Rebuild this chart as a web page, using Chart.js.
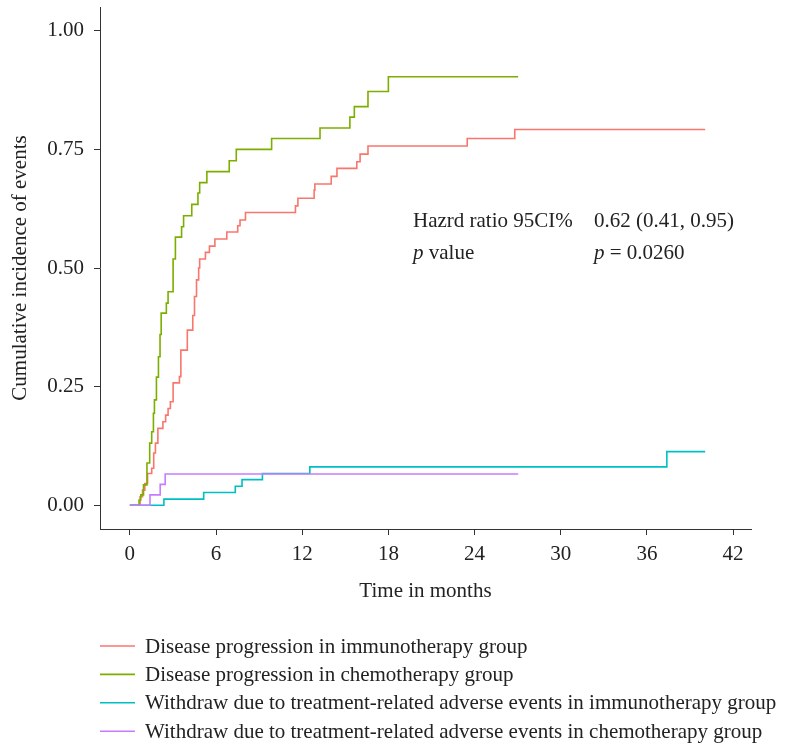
<!DOCTYPE html>
<html>
<head>
<meta charset="utf-8">
<script src="https://cdn.jsdelivr.net/npm/chart.js@4.4.1/dist/chart.umd.min.js"></script>
<style>
body { margin: 0; background: #fff; }
#wrap { width: 792px; height: 744px; position: relative; }
</style>
</head>
<body>
<div id="wrap"><canvas id="mainChart"></canvas></div>
<script>
const seriesNames = [
    'Disease progression in immunotherapy group',
    'Disease progression in chemotherapy group',
    'Withdraw due to treatment-related adverse events in immunotherapy group',
    'Withdraw due to treatment-related adverse events in chemotherapy group'
];
const seriesColors = ['#F8766D', '#7CAE00', '#00BFC4', '#C77CFF'];

// step times (months) and cumulative incidence after each step
const immunoPdTime = [0, 0.71, 0.88, 1.04, 1.23, 1.52, 1.66, 1.78, 1.95, 2.30, 2.49, 2.66, 2.82, 3.01, 3.45, 3.55, 4.00,
    4.38, 4.50, 4.64, 4.79, 4.86, 5.26, 5.54, 5.92, 6.75, 7.51, 7.67, 8.05, 11.53, 11.70, 12.83, 12.88,
    14.02, 14.42, 15.80, 16.03, 16.58, 23.49, 26.80, 40.06];
const immunoPdValue = [0, 0.018, 0.032, 0.046, 0.067, 0.078, 0.110, 0.131, 0.162, 0.176, 0.190, 0.204, 0.218, 0.258, 0.271, 0.327, 0.369,
    0.400, 0.440, 0.475, 0.500, 0.519, 0.533, 0.546, 0.561, 0.576, 0.589, 0.601, 0.617, 0.631, 0.647, 0.664, 0.677,
    0.693, 0.710, 0.724, 0.740, 0.757, 0.773, 0.792, 0.792];

const chemoPdTime = [0, 0.64, 0.76, 0.95, 1.19, 1.38, 1.52, 1.64, 1.71, 1.85, 1.99, 2.10, 2.18, 2.54, 2.66, 3.01,
    3.17, 3.60, 3.74, 4.31, 4.74, 4.86, 5.36, 6.92, 7.41, 9.87, 13.24, 15.32, 15.63, 16.58, 18.00, 27.04];
const chemoPdValue = [0, 0.011, 0.022, 0.043, 0.089, 0.131, 0.155, 0.194, 0.222, 0.270, 0.313, 0.360, 0.405, 0.426, 0.450, 0.519,
    0.565, 0.587, 0.610, 0.634, 0.658, 0.680, 0.703, 0.726, 0.750, 0.773, 0.795, 0.818, 0.840, 0.872, 0.903, 0.903];

const immunoAeTime = [0, 2.37, 5.14, 7.34, 7.81, 9.23, 12.53, 37.39, 40.06];
const immunoAeValue = [0, 0.013, 0.027, 0.040, 0.054, 0.067, 0.081, 0.113, 0.113];

const chemoAeTime = [0, 1.40, 2.11, 2.46, 27.04];
const chemoAeValue = [0, 0.022, 0.044, 0.066, 0.066];

const xTicks = [0, 6, 12, 18, 24, 30, 36, 42];
const yTicks = [0, 0.25, 0.5, 0.75, 1];

const fontFamily = '"Liberation Serif", "DejaVu Serif", serif';
const textColor = '#222';
const axisColor = '#333';

function toPoints(times, values) {
    return times.map((t, i) => ({x: t, y: values[i]}));
}

const seriesData = [
    toPoints(immunoPdTime, immunoPdValue),
    toPoints(chemoPdTime, chemoPdValue),
    toPoints(immunoAeTime, immunoAeValue),
    toPoints(chemoAeTime, chemoAeValue)
];

const datasets = seriesData.map((pts, i) => ({
    label: seriesNames[i],
    data: pts,
    borderColor: seriesColors[i],
    backgroundColor: seriesColors[i],
    stepped: 'before',
    borderWidth: 1.6,
    pointRadius: 0,
    fill: false,
    order: 4 - i
}));

const bottomLegend = {
    id: 'bottomLegend',
    afterDraw(chart) {
        const ctx = chart.ctx;
        ctx.save();
        ctx.font = '21px ' + fontFamily;
        ctx.textBaseline = 'middle';
        chart.data.datasets.forEach((ds, i) => {
            const y = 646 + i * 28.4;
            ctx.strokeStyle = ds.borderColor;
            ctx.lineWidth = 1.6;
            ctx.beginPath();
            ctx.moveTo(100, y);
            ctx.lineTo(135, y);
            ctx.stroke();
            ctx.fillStyle = textColor;
            ctx.fillText(ds.label, 145, y + 1);
        });
        ctx.restore();
    }
};

const statsText = {
    id: 'statsText',
    afterDraw(chart) {
        const ctx = chart.ctx;
        const normal = '21px ' + fontFamily;
        const italic = 'italic 21px ' + fontFamily;
        ctx.save();
        ctx.fillStyle = textColor;
        ctx.textBaseline = 'alphabetic';
        ctx.font = normal;
        ctx.fillText('Hazrd ratio 95CI%', 413, 227);
        ctx.fillText('0.62 (0.41, 0.95)', 594, 227);
        ctx.font = italic;
        ctx.fillText('p', 413, 259);
        let w = ctx.measureText('p').width;
        ctx.font = normal;
        ctx.fillText(' value', 413 + w, 259);
        ctx.font = italic;
        ctx.fillText('p', 594, 259);
        w = ctx.measureText('p').width;
        ctx.font = normal;
        ctx.fillText(' = 0.0260', 594 + w, 259);
        ctx.restore();
    }
};

const ctx = document.getElementById('mainChart');
new Chart(ctx, {
    type: 'line',
    data: {datasets: datasets},
    options: {
        responsive: true,
        maintainAspectRatio: false,
        animation: false,
        layout: {padding: {top: 7, right: 41, bottom: 135, left: 0}},
        plugins: {
            legend: {display: false},
            tooltip: {enabled: false}
        },
        scales: {
            x: {
                type: 'linear',
                min: -2.08,
                max: 43.25,
                afterBuildTicks: (scale) => { scale.ticks = xTicks.map(v => ({value: v})); },
                afterFit: (scale) => {
                    scale.height = 80;
                    scale.paddingLeft = 0;
                    scale.paddingRight = 0;
                },
                grid: {drawOnChartArea: false, tickLength: 6, tickColor: axisColor},
                border: {color: axisColor, width: 1},
                ticks: {
                    color: textColor,
                    font: {family: fontFamily, size: 21},
                    padding: 7,
                    maxRotation: 0,
                    autoSkip: false,
                    callback: (v) => String(v)
                },
                title: {
                    display: true,
                    text: 'Time in months',
                    color: textColor,
                    font: {family: fontFamily, size: 21},
                    padding: {top: 0, bottom: 5}
                }
            },
            y: {
                min: -0.05,
                max: 1.05,
                afterBuildTicks: (scale) => { scale.ticks = yTicks.map(v => ({value: v})); },
                afterFit: (scale) => {
                    scale.width = 100;
                    scale.paddingTop = 0;
                    scale.paddingBottom = 0;
                },
                grid: {drawOnChartArea: false, tickLength: 6, tickColor: axisColor},
                border: {color: axisColor, width: 1},
                ticks: {
                    color: textColor,
                    font: {family: fontFamily, size: 21},
                    padding: 10,
                    callback: (v) => v.toFixed(2)
                },
                title: {
                    display: true,
                    text: 'Cumulative incidence of events',
                    color: textColor,
                    font: {family: fontFamily, size: 21},
                    padding: {top: 8, bottom: 0}
                }
            }
        }
    },
    plugins: [bottomLegend, statsText]
});
</script>
</body>
</html>
